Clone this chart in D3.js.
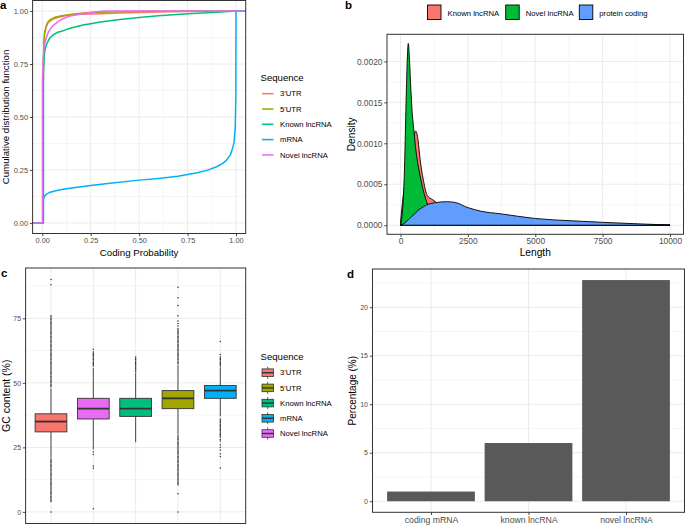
<!DOCTYPE html>
<html><head><meta charset="utf-8">
<script src="https://cdn.jsdelivr.net/npm/d3@7"></script>
<style>body{margin:0;background:#fff}svg{display:block;font-family:"Liberation Sans",Arial,Helvetica,sans-serif}</style>
</head><body><svg id="chart" width="685" height="525"></svg>
<script>
// ---------- DATA ----------
// Panel a: empirical CDF of coding probability
const seqNames = ["3'UTR","5'UTR","Known lncRNA","mRNA","Novel lncRNA"];
const seqColors = ["#F8766D","#A3A500","#00BF7D","#00B0F6","#E76BF3"];
const cdfX_utr3 = [-0.05,0.004,0.004,0.008,0.012,0.02,0.03,0.05,0.08,0.12,0.2,0.3,0.4,0.5,0.6,0.8,1.0,1.05];
const cdfY_utr3 = [0,0,0.6,0.82,0.89,0.925,0.945,0.96,0.97,0.978,0.985,0.988,0.991,0.993,0.996,0.999,1,1];
const cdfX_utr5 = [-0.05,0.005,0.005,0.008,0.012,0.02,0.03,0.045,0.07,0.1,0.15,0.2,0.25,0.35,0.5,1.0,1.05];
const cdfY_utr5 = [0,0,0.7,0.85,0.9,0.93,0.95,0.962,0.972,0.978,0.985,0.99,0.993,0.996,0.999,1,1];
const cdfX_known = [-0.05,0.006,0.006,0.01,0.015,0.025,0.04,0.06,0.08,0.1,0.13,0.17,0.21,0.25,0.3,0.4,0.5,0.6,0.75,0.9,1.0,1.05];
const cdfY_known = [0,0,0.72,0.79,0.82,0.85,0.875,0.89,0.9,0.905,0.915,0.925,0.934,0.94,0.948,0.96,0.97,0.978,0.988,0.995,1,1];
const cdfX_mrna = [-0.05,0.002,0.002,0.008,0.02,0.04,0.07,0.1,0.18,0.25,0.35,0.5,0.6,0.7,0.75,0.8,0.85,0.9,0.93,0.95,0.97,0.98,0.99,0.996,0.999,1.0,1.05];
const cdfY_mrna = [0,0,0.1,0.12,0.135,0.145,0.152,0.158,0.168,0.177,0.187,0.202,0.21,0.22,0.229,0.237,0.248,0.265,0.28,0.295,0.32,0.345,0.38,0.45,0.6,1,1];
const cdfX_novel = [-0.05,0.001,0.001,0.005,0.01,0.015,0.02,0.03,0.045,0.06,0.085,0.11,0.14,0.18,0.22,0.27,0.32,1.0,1.05];
const cdfY_novel = [0,0,0.68,0.78,0.83,0.855,0.872,0.898,0.92,0.935,0.953,0.965,0.975,0.984,0.99,0.996,1,1,1];
const probTicks = [0,0.25,0.5,0.75,1];
const probMinor = [0.125,0.375,0.625,0.875];

// Panel b: length density
const densNames = ["Known lncRNA","Novel lncRNA","protein coding"];
const densColors = ["#F8766D","#00BA38","#619CFF"];
const lenGrid = [0,50,100,150,200,250,290,330,380,430,500,570,650,730,850,1000,1200,1350,1500,1700,2000,2500,3000,3700,5000,6400,7500,8800,10000];
const densKnown = [0.00003,0.0002,0.00035,0.00048,0.0006,0.0007,0.00078,0.00085,0.00093,0.001,0.0011,0.00115,0.00104,0.0008,0.00055,0.00036,0.00031,0.00027,0.0002,0.00014,0.00009,0.00004,0.00002,0.00001,0.000003,0,0,0,0];
const densNovel = [0,0.0001,0.0003,0.0007,0.0014,0.002,0.00222,0.00205,0.0017,0.0014,0.00115,0.00092,0.00074,0.0006,0.00042,0.00026,0.00015,0.0001,0.00007,0.00004,0.00002,0.00001,0.000005,0,0,0,0,0,0];
const densProtein = [0,0.000005,0.000015,0.000025,0.00004,0.000055,0.000067,0.00008,0.000095,0.00011,0.00013,0.000155,0.00018,0.0002,0.000225,0.000252,0.00027,0.000278,0.000284,0.000287,0.00028,0.000215,0.00017,0.00014,0.000082,0.000053,0.000035,0.000017,0.000002];
const lenTicks = [0,2500,5000,7500,10000];
const lenMinor = [1250,3750,6250,8750];
const densTicks = [0,0.0005,0.001,0.0015,0.002];
const densMinor = [0.00025,0.00075,0.00125,0.00175];

// Panel c: GC content boxplots (x order by median)
const boxOrder = ["3'UTR","Novel lncRNA","Known lncRNA","5'UTR","mRNA"];
const boxLower = [21,24.2,27,30,37];
const boxQ1 = [31,36,37,40,44];
const boxMedian = [35,40,40,44,47];
const boxQ3 = [38,44,44,47,49];
const boxUpper = [47.8,55.8,54,57,56];
const outUtr3 = [0,4,4.5,5,5.5,6,6.5,7,7.5,8,8.5,9,9.5,10,10.5,11,11.5,12,12.5,13,13.5,14,14.5,15,15.5,16,16.5,17,17.5,18,18.5,19,19.5,20,20.5,
  48.5,49,49.5,50,50.5,51,51.5,52,52.5,53,53.5,54,54.5,55,55.5,56,56.5,57,57.5,58,58.5,59,59.5,60,60.5,61,61.5,62,62.5,63,63.5,64,64.5,65,65.5,66,66.5,67,67.5,68,68.5,69,69.5,70,70.5,71,71.5,72,72.5,73,73.5,74,74.5,75,75.5,76,88,90];
const outNovel = [1.2,16.9,17.8,22.2,23.2,56.5,57,57.5,58,58.5,59,59.5,60,60.5,61,61.5,62,63];
const outKnown = [54.5,55,55.5,56,56.5,57,57.5,58,58.5,59,59.5,60];
const outUtr5 = [0,7,10.5,11,11.5,12,12.5,13,13.5,14,14.5,15,15.5,16,16.5,17,17.5,18,18.5,19,19.5,20,20.5,21,21.5,22,22.5,23,23.5,24,24.5,25,25.5,26,26.5,27,27.5,28,28.5,29,29.5,
  57.5,58,58.5,59,59.5,60,60.5,61,61.5,62,62.5,63,63.5,64,64.5,65,65.5,66,66.5,67,67.5,68,68.5,69,69.5,70,70.5,71,72,73,74,76,80,83,87];
const outMrna = [17,21.5,22.5,24,25,26,27.5,28,29,29.5,30,30.5,31,31.5,32,32.5,33,33.5,34,34.5,35,35.5,36,56.5,57,57.5,58,58.5,59,59.5,60,61,66];
const gcTicks = [0,25,50,75];
const gcMinor = [12.5,37.5,62.5,87.5];

// Panel d: percentage bars
const barCats = ["coding mRNA","known lncRNA","novel lncRNA"];
const barVals = [1.0,6.0,22.8];
const pctTicks = [0,5,10,15,20];
const pctMinor = [2.5,7.5,12.5,17.5,22.5];

// ---------- HELPERS ----------
const svg = d3.select("#chart");
svg.append("rect").attr("width",685).attr("height",525).attr("fill","#fff");
const GRID = "#EBEBEB", BORDER = "#333333", TICKTXT = "#4D4D4D";

function grid(g, x0,x1,y0,y1, xs, ys, w) {
  xs.forEach(v => g.append("line").attr("x1",v).attr("x2",v).attr("y1",y0).attr("y2",y1).attr("stroke",GRID).attr("stroke-width",w));
  ys.forEach(v => g.append("line").attr("y1",v).attr("y2",v).attr("x1",x0).attr("x2",x1).attr("stroke",GRID).attr("stroke-width",w));
}
function border(g,x0,x1,y0,y1){
  g.append("rect").attr("x",x0).attr("y",y0).attr("width",x1-x0).attr("height",y1-y0)
   .attr("fill","none").attr("stroke",BORDER).attr("stroke-width",1);
}
function styleAxis(a, fs){
  a.attr("font-family",null).attr("font-size",null);
  a.select(".domain").remove();
  a.selectAll("line").attr("stroke",BORDER).attr("stroke-width",0.9);
  a.selectAll("text").attr("fill",TICKTXT).style("font-size",fs+"px");
}
function axisLeft(scale, x, ticks, fmt, fs){
  const a = svg.append("g").attr("transform",`translate(${x},0)`)
    .call(d3.axisLeft(scale).tickValues(ticks).tickFormat(fmt).tickSize(2.7).tickPadding(1.8));
  styleAxis(a, fs);
}
function axisBottom(scale, y, ticks, fmt, fs){
  const a = svg.append("g").attr("transform",`translate(0,${y})`)
    .call(d3.axisBottom(scale).tickValues(ticks).tickFormat(fmt).tickSize(2.7).tickPadding(1.5));
  styleAxis(a, fs);
}
function title(txt, x, y, fs, rot){
  const t = svg.append("text").text(txt).attr("font-size",fs).attr("fill","#000").attr("text-anchor","middle");
  if (rot) t.attr("transform",`translate(${x},${y}) rotate(-90)`); else t.attr("x",x).attr("y",y);
}
function tag(txt,x,y){ svg.append("text").text(txt).attr("x",x).attr("y",y).attr("font-size",11.5).attr("font-weight","bold"); }

// ---------- PANEL A ----------
{
  const X0=32.6,X1=245.7,Y0=0.5,Y1=233.5;
  const x = d3.scaleLinear().domain([-0.05,1.05]).range([X0,X1]);
  const y = d3.scaleLinear().domain([-0.05,1.05]).range([Y1,Y0]);
  const g = svg.append("g");
  g.append("rect").attr("x",X0).attr("y",Y0).attr("width",X1-X0).attr("height",Y1-Y0).attr("fill","#fff");
  grid(g,X0,X1,Y0,Y1, probMinor.map(x), probMinor.map(y), 0.5);
  grid(g,X0,X1,Y0,Y1, probTicks.map(x), probTicks.map(y), 1);
  const series = [[cdfX_utr3,cdfY_utr3],[cdfX_utr5,cdfY_utr5],[cdfX_known,cdfY_known],[cdfX_mrna,cdfY_mrna],[cdfX_novel,cdfY_novel]];
  const line = d3.line().x(d=>x(d[0])).y(d=>y(d[1]));
  series.forEach((s,i)=>{
    const pts = s[0].map((v,j)=>[v,s[1][j]]);
    g.append("path").attr("d",line(pts)).attr("fill","none").attr("stroke",seqColors[i]).attr("stroke-width",1.5).attr("stroke-linejoin","round");
  });
  border(g,X0,X1,Y0,Y1);
  const f = d3.format(".2f");
  axisLeft(y, X0, probTicks, f, 7.4);
  axisBottom(x, Y1, probTicks, f, 7.4);
  title("Coding Probability", (X0+X1)/2, 255.5, 9.7);
  title("Cumulative distribution function", 8.5, (Y0+Y1)/2, 9.7, true);
  tag("a", 0, 9);
  // legend
  svg.append("text").text("Sequence").attr("x",260.5).attr("y",80.5).attr("font-size",9.6);
  seqNames.forEach((n,i)=>{
    const cy = 93.7 + i*15.3;
    svg.append("line").attr("x1",262).attr("x2",273.5).attr("y1",cy).attr("y2",cy).attr("stroke",seqColors[i]).attr("stroke-width",1.5);
    svg.append("text").text(n).attr("x",280).attr("y",cy+2.7).attr("font-size",7.7).attr("fill","#000");
  });
}

// ---------- PANEL B ----------
{
  const X0=387,X1=683.5,Y0=34.3,Y1=234.3;
  const x = d3.scaleLinear().domain([-500,10500]).range([X0,X1]);
  const dmax = d3.max([...densKnown,...densNovel,...densProtein]);
  const y = d3.scaleLinear().domain([-0.05*dmax,1.05*dmax]).range([Y1,Y0]);
  const g = svg.append("g");
  g.append("rect").attr("x",X0).attr("y",Y0).attr("width",X1-X0).attr("height",Y1-Y0).attr("fill","#fff");
  grid(g,X0,X1,Y0,Y1, lenMinor.map(x), densMinor.map(y), 0.5);
  grid(g,X0,X1,Y0,Y1, lenTicks.map(x), densTicks.map(y), 1);
  const area = d3.area().x(d=>x(d[0])).y0(y(0)).y1(d=>y(d[1])).curve(d3.curveMonotoneX);
  [densKnown,densNovel,densProtein].forEach((arr,i)=>{
    const pts = lenGrid.map((v,j)=>[v,arr[j]]);
    g.append("path").attr("d",area(pts)).attr("fill",densColors[i]).attr("stroke","#000").attr("stroke-width",0.9).attr("stroke-linejoin","round");
  });
  border(g,X0,X1,Y0,Y1);
  axisLeft(y, X0, densTicks, d3.format(".4f"), 8.4);
  axisBottom(x, Y1, lenTicks, d3.format("d"), 8.4);
  title("Length", (X0+X1)/2, 255.5, 10.2);
  title("Density", 355, (Y0+Y1)/2, 10.2, true);
  tag("b", 345, 9);
  const keyX = [427.5,505.7,579.3];
  densNames.forEach((n,i)=>{
    svg.append("rect").attr("x",keyX[i]).attr("y",5).attr("width",13.5).attr("height",14.5).attr("fill",densColors[i]).attr("stroke","#000").attr("stroke-width",0.9);
    svg.append("text").text(n).attr("x",keyX[i]+20).attr("y",16).attr("font-size",7.7);
  });
}

// ---------- PANEL C ----------
{
  const X0=25.6,X1=245.7,Y0=268,Y1=523.5;
  const x = d3.scalePoint().domain(boxOrder).range([X0,X1]).padding(0.6);
  const gmax = d3.max([...outUtr3,...outNovel,...outKnown,...outUtr5,...outMrna]);
  const y = d3.scaleLinear().domain([-0.05*gmax,1.05*gmax]).range([Y1,Y0]);
  const g = svg.append("g");
  g.append("rect").attr("x",X0).attr("y",Y0).attr("width",X1-X0).attr("height",Y1-Y0).attr("fill","#fff");
  grid(g,X0,X1,Y0,Y1, [], gcMinor.map(y), 0.5);
  grid(g,X0,X1,Y0,Y1, boxOrder.map(x), gcTicks.map(y), 1);
  const outs = [outUtr3,outNovel,outKnown,outUtr5,outMrna];
  const bw = x.step()*0.75;
  boxOrder.forEach((n,i)=>{
    const cx = x(n), col = seqColors[seqNames.indexOf(n)];
    outs[i].forEach(v => g.append("circle").attr("cx",cx).attr("cy",y(v)).attr("r",0.75).attr("fill","#333"));
    g.append("line").attr("x1",cx).attr("x2",cx).attr("y1",y(boxUpper[i])).attr("y2",y(boxQ3[i])).attr("stroke","#333").attr("stroke-width",0.9);
    g.append("line").attr("x1",cx).attr("x2",cx).attr("y1",y(boxQ1[i])).attr("y2",y(boxLower[i])).attr("stroke","#333").attr("stroke-width",0.9);
    g.append("rect").attr("x",cx-bw/2).attr("width",bw).attr("y",y(boxQ3[i])).attr("height",y(boxQ1[i])-y(boxQ3[i]))
      .attr("fill",col).attr("stroke","#333").attr("stroke-width",0.9);
    g.append("line").attr("x1",cx-bw/2).attr("x2",cx+bw/2).attr("y1",y(boxMedian[i])).attr("y2",y(boxMedian[i])).attr("stroke","#333").attr("stroke-width",1.8);
  });
  border(g,X0,X1,Y0,Y1);
  axisLeft(y, X0, gcTicks, d3.format("d"), 7);
  title("GC content (%)", 9.5, (Y0+Y1)/2, 10.5, true);
  tag("c", 1, 277);
  svg.append("text").text("Sequence").attr("x",260.5).attr("y",359.5).attr("font-size",9.6);
  seqNames.forEach((n,i)=>{
    const cy = 372.7 + i*15.2, kx = 267.7;
    svg.append("line").attr("x1",kx).attr("x2",kx).attr("y1",cy-6).attr("y2",cy+6).attr("stroke","#333").attr("stroke-width",0.8);
    svg.append("rect").attr("x",262).attr("y",cy-3.8).attr("width",11.5).attr("height",7.6).attr("fill",seqColors[i]).attr("stroke","#333").attr("stroke-width",0.8);
    svg.append("line").attr("x1",262).attr("x2",273.5).attr("y1",cy).attr("y2",cy).attr("stroke","#333").attr("stroke-width",1.4);
    svg.append("text").text(n).attr("x",280).attr("y",cy+2.7).attr("font-size",7.7);
  });
}

// ---------- PANEL D ----------
{
  const X0=372.5,X1=684.5,Y0=269,Y1=512.3;
  const x = d3.scalePoint().domain(barCats).range([X0,X1]).padding(0.6);
  const vmax = d3.max(barVals);
  const y = d3.scaleLinear().domain([-0.05*vmax,1.05*vmax]).range([Y1,Y0]);
  const g = svg.append("g");
  g.append("rect").attr("x",X0).attr("y",Y0).attr("width",X1-X0).attr("height",Y1-Y0).attr("fill","#fff");
  grid(g,X0,X1,Y0,Y1, [], pctMinor.map(y), 0.5);
  grid(g,X0,X1,Y0,Y1, barCats.map(x), pctTicks.map(y), 1);
  const bw = x.step()*0.9;
  barCats.forEach((c,i)=>{
    g.append("rect").attr("x",x(c)-bw/2).attr("width",bw).attr("y",y(barVals[i])).attr("height",y(0)-y(barVals[i])).attr("fill","#595959");
  });
  border(g,X0,X1,Y0,Y1);
  axisLeft(y, X0, pctTicks, d3.format("d"), 7);
  axisBottom(x, Y1, barCats, d=>d, 8.7);
  title("Percentage (%)", 356, (Y0+Y1)/2, 10, true);
  tag("d", 347, 278);
}
</script></body></html>
